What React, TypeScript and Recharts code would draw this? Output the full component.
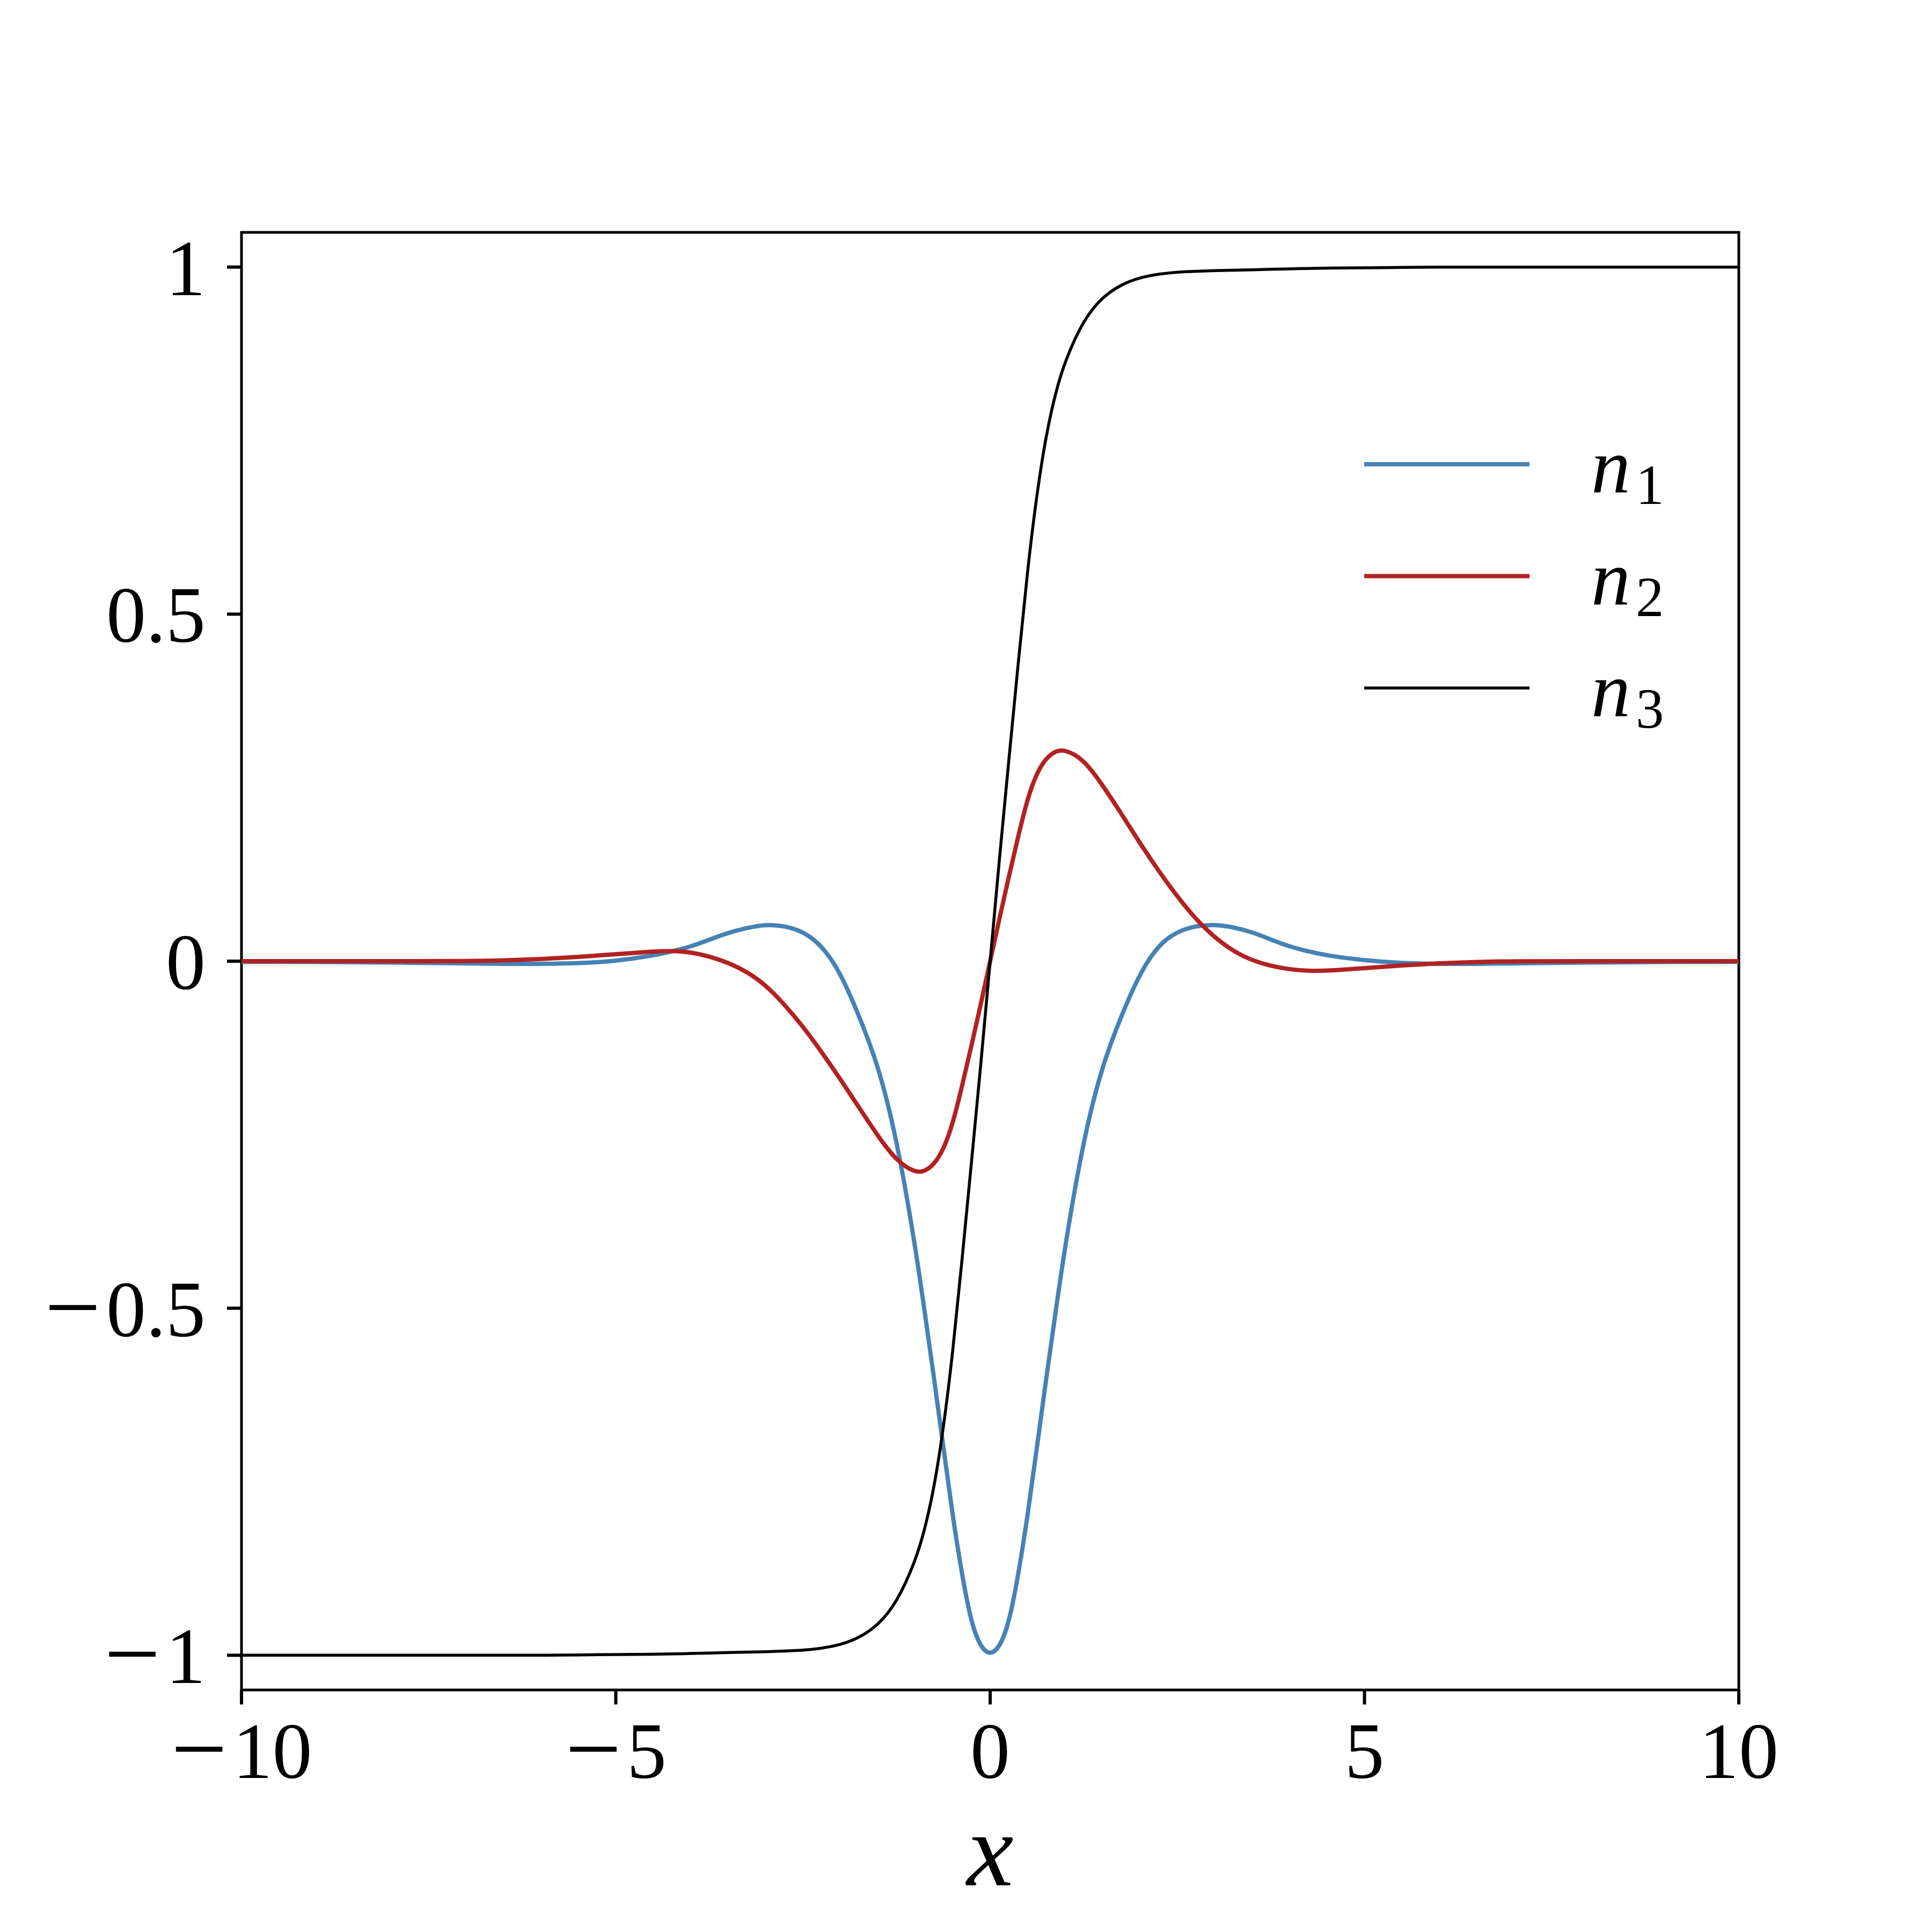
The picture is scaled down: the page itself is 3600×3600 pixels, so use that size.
import React from 'react';
import { LineChart, Line, XAxis, YAxis, Legend, ReferenceArea } from 'recharts';

const xValues = [
  -10, -9, -8, -7, -6.5, -6, -5.5, -5, -4.5, -4.25, -4, -3.75, -3.5, -3.25, -3, -2.75, -2.5, -2.25, -2, -1.75, -1.5, -1.25, -1, -0.875, -0.75, -0.625, -0.5, -0.375, -0.25, -0.125,
  0,
  0.125, 0.25, 0.375, 0.5, 0.625, 0.75, 0.875, 1, 1.25, 1.5, 1.75, 2, 2.25, 2.5, 2.75, 3, 3.25, 3.5, 3.75, 4, 4.25, 4.5, 5, 5.5, 6, 6.5, 7, 8, 9, 10,
];

const n1Values = [
  -0.001, -0.001, -0.002, -0.003, -0.004, -0.004, -0.003, 0.0, 0.008, 0.014, 0.021, 0.031, 0.041, 0.048, 0.053, 0.051, 0.043, 0.023, -0.016, -0.079, -0.148, -0.254, -0.41, -0.505, -0.6, -0.7, -0.8, -0.885, -0.955, -0.989,
  -1,
  -0.989, -0.955, -0.885, -0.8, -0.7, -0.6, -0.505, -0.41, -0.254, -0.149, -0.079, -0.017, 0.024, 0.043, 0.051, 0.053, 0.049, 0.042, 0.031, 0.021, 0.014, 0.008, 0.001, -0.003, -0.004, -0.004, -0.003, -0.002, -0.001, -0.001,
];

const n2Values = [
  0, 0, 0, 0, 0.001, 0.003, 0.006, 0.01, 0.014, 0.015, 0.013, 0.007, -0.002, -0.015, -0.034, -0.062, -0.094, -0.131, -0.17, -0.211, -0.252, -0.288, -0.305, -0.303, -0.293, -0.272, -0.235, -0.18, -0.122, -0.062,
  0,
  0.062, 0.122, 0.18, 0.235, 0.272, 0.293, 0.303, 0.305, 0.291, 0.254, 0.213, 0.17, 0.13, 0.093, 0.06, 0.034, 0.014, 0.001, -0.007, -0.012, -0.014, -0.014, -0.01, -0.006, -0.003, -0.001, 0, 0, 0, 0,
];

const n3Values = [
  -1, -1, -1, -1, -1, -1, -0.9995, -0.999, -0.9985, -0.998, -0.9975, -0.997, -0.996, -0.9955, -0.995, -0.994, -0.993, -0.99, -0.985, -0.975, -0.957, -0.925, -0.865, -0.82, -0.76, -0.675, -0.565, -0.43, -0.29, -0.15,
  0,
  0.15, 0.29, 0.43, 0.565, 0.675, 0.76, 0.82, 0.865, 0.925, 0.957, 0.975, 0.985, 0.99, 0.993, 0.994, 0.995, 0.9955, 0.996, 0.997, 0.9975, 0.998, 0.9985, 0.999, 0.9995, 1, 1, 1, 1, 1, 1,
];

const xTicks = [-10, -5, 0, 5, 10];
const yTicks = [-1, -0.5, 0, 0.5, 1];
const xDomain = [-10, 10];
const yDomain = [-1.05, 1.05];

const seriesKeys = ['n1', 'n2', 'n3'];
const seriesSubscripts = ['1', '2', '3'];
const seriesColors = ['#4682b4', '#b22222', '#000000'];
const seriesWidths = [8, 8, 5.5];
const xLabel = 'x';

const data = xValues.map((x, i) => ({ x, n1: n1Values[i], n2: n2Values[i], n3: n3Values[i] }));

const FONT = "'Liberation Serif', 'DejaVu Serif', serif";
const TICK_FONT_SIZE = 148;

const TickText = (props: any) => {
  const { x, y, value, anchor } = props;
  const neg = value < 0;
  const body = String(Math.abs(value));
  return (
    <text x={x} y={y} textAnchor={anchor} fontFamily={FONT} fontSize={TICK_FONT_SIZE} fill="#000">
      {neg ? (
        <>
          <tspan fontSize={186} dy={8}>{'\u2212'}</tspan>
          <tspan dy={-8} dx={10}>{body}</tspan>
        </>
      ) : (
        body
      )}
    </text>
  );
};

const XTick = (props: any) => {
  const { x, y, payload } = props;
  return <TickText x={x} y={y + 137} value={payload.value} anchor="middle" />;
};

const YTick = (props: any) => {
  const { x, y, payload } = props;
  return <TickText x={x - 40} y={y + 52} value={payload.value} anchor="end" />;
};

const XAxisLabel = (props: any) => {
  const vb = props.viewBox || { x: 450, y: 3149, width: 2790, height: 0 };
  return (
    <text
      x={vb.x + vb.width / 2}
      y={vb.y + 364}
      textAnchor="middle"
      fontFamily={FONT}
      fontStyle="italic"
      fontSize={196}
      fill="#000"
    >
      {xLabel}
    </text>
  );
};

const renderLegend = (props: any) => {
  const payload = props.payload || [];
  return (
    <svg width={700} height={600} style={{ overflow: 'visible' }}>
      {payload.map((entry: any, i: number) => {
        const idx = Math.max(0, seriesKeys.indexOf(entry.dataKey));
        const cy = 105 + i * 208.5;
        return (
          <g key={entry.dataKey || i}>
            <line x1={42} x2={350} y1={cy} y2={cy} stroke={seriesColors[idx]} strokeWidth={seriesWidths[idx]} />
            <text x={465} y={cy + 53} fontFamily={FONT} fontSize={146} fill="#000">
              <tspan fontStyle="italic">n</tspan>
              <tspan fontSize={105} dx={10} dy={21}>
                {seriesSubscripts[idx]}
              </tspan>
            </text>
          </g>
        );
      })}
    </svg>
  );
};

export default function App() {
  return (
    <div style={{ position: 'absolute', left: 0, top: 0, width: 3600, height: 3600, background: '#fff' }}>
      <LineChart
        width={3600}
        height={3600}
        data={data}
        margin={{ top: 433, right: 360, bottom: 151, left: 150 }}
      >
        <XAxis
          dataKey="x"
          type="number"
          domain={xDomain}
          ticks={xTicks}
          allowDataOverflow
          height={300}
          axisLine={false}
          tickSize={27}
          tickMargin={0}
          tickLine={{ stroke: '#000', strokeWidth: 6 }}
          tick={<XTick />}
          interval={0}
          label={<XAxisLabel />}
        />
        <YAxis
          type="number"
          domain={yDomain}
          ticks={yTicks}
          allowDataOverflow
          width={300}
          axisLine={false}
          tickSize={27}
          tickMargin={0}
          tickLine={{ stroke: '#000', strokeWidth: 6 }}
          tick={<YTick />}
          interval={0}
        />
        <ReferenceArea
          x1={xDomain[0]}
          x2={xDomain[1]}
          y1={yDomain[0]}
          y2={yDomain[1]}
          fill="none"
          fillOpacity={0}
          stroke="#000"
          strokeWidth={5}
          ifOverflow="visible"
        />
        {seriesKeys.map((k, i) => (
          <Line
            key={k}
            type="basis"
            dataKey={k}
            name={k}
            stroke={seriesColors[i]}
            strokeWidth={seriesWidths[i]}
            dot={false}
            activeDot={false}
            isAnimationActive={false}
          />
        ))}
        <Legend
          layout="horizontal"
          verticalAlign="middle"
          align="center"
          content={renderLegend}
          wrapperStyle={{ position: 'absolute', left: 2500, top: 760, width: 700, height: 600 }}
        />
      </LineChart>
    </div>
  );
}
